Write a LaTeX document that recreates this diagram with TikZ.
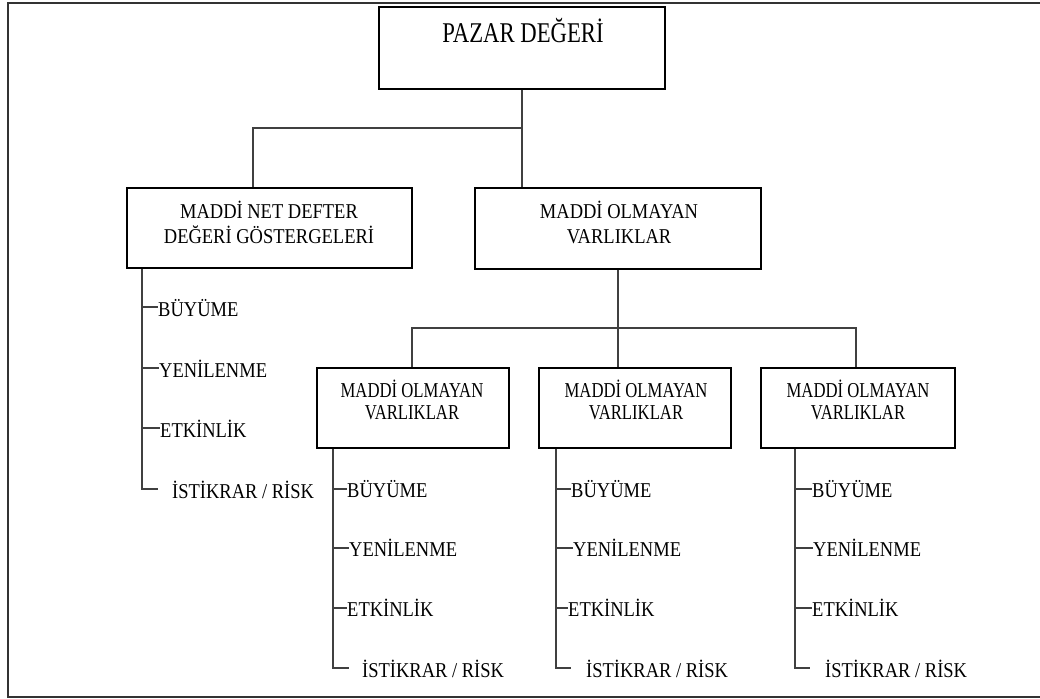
\documentclass[tikz,border=0pt]{standalone}
\usepackage{fontspec}
\setmainfont{Liberation Serif}
\usepackage{graphicx}
\newcommand\vstr[2]{\scalebox{1}[#1]{#2}}
\newcommand\fitem{\fontsize{18.5}{22}\selectfont}
\newcommand\fmid{\fontsize{18.5}{22.8}\selectfont}
\newcommand\fsub{\fontsize{16.7}{18.1}\selectfont}
\newcommand\ftop{\fontsize{22.7}{26}\selectfont}
\renewcommand\arraystretch{1}
\tikzset{
  box/.style={draw=black, line width=1.8pt, rectangle, inner sep=0pt},
  conn/.style={draw=black!75, line width=1.1pt},
  frame/.style={draw=black!80, line width=2pt},
  item/.style={anchor=base west, inner sep=0pt, font=\fitem},
  boxtxt/.style={anchor=base, inner sep=0pt, align=center},
}
\begin{document}
\begin{tikzpicture}[x=1pt,y=-1pt]
\useasboundingbox (0,0) rectangle (1040,698);
% outer frame (open on the right)
\draw[frame] (1041,3.5) -- (8,3.5) -- (8,697) -- (1041,697);

% boxes
\node[box, minimum width=286pt, minimum height=82pt] (pazar) at (522,48) {};
\node[box, minimum width=285pt, minimum height=80pt] (mnd) at (269.5,228) {};
\node[box, minimum width=286pt, minimum height=81pt] (mol) at (618,228.5) {};
\node[box, minimum width=192pt, minimum height=80pt] (ba) at (413,408) {};
\node[box, minimum width=192pt, minimum height=80pt] (bb) at (635,408) {};
\node[box, minimum width=194pt, minimum height=80pt] (bc) at (858,408) {};

% box texts
\node[boxtxt, font=\ftop] (pazar-t) at (523,43) {\vstr{1.26}{PAZAR DEĞERİ}};
\node[boxtxt, font=\fmid] (mnd-t) at (269,218) {\vstr{1.14}{\begin{tabular}[t]{@{}c@{}}MADDİ NET DEFTER\\DEĞERİ GÖSTERGELERİ\end{tabular}}};
\node[boxtxt, font=\fmid] (mol-t) at (619,218) {\vstr{1.14}{\begin{tabular}[t]{@{}c@{}}MADDİ OLMAYAN\\VARLIKLAR\end{tabular}}};
\node[boxtxt, font=\fsub] (ba-t) at (412,397) {\vstr{1.27}{\begin{tabular}[t]{@{}c@{}}MADDİ OLMAYAN\\VARLIKLAR\end{tabular}}};
\node[boxtxt, font=\fsub] (bb-t) at (636,397) {\vstr{1.27}{\begin{tabular}[t]{@{}c@{}}MADDİ OLMAYAN\\VARLIKLAR\end{tabular}}};
\node[boxtxt, font=\fsub] (bc-t) at (858,397) {\vstr{1.27}{\begin{tabular}[t]{@{}c@{}}MADDİ OLMAYAN\\VARLIKLAR\end{tabular}}};

% tree connectors
\coordinate (j1) at (522,128);
\coordinate (j1l) at (253,128);
\draw[conn] (pazar.south) -- (pazar.south |- mol.north);
\draw[conn] (j1) -- (j1l) -- (j1l |- mnd.north);
\coordinate (j2) at (618,328);
\coordinate (j2l) at (412,328);
\coordinate (j2r) at (856,328);
\draw[conn] (mol.south -| j2) -- (j2 |- bb.north);
\draw[conn] (j2l |- ba.north) -- (j2l) -- (j2r) -- (j2r |- bc.north);

% ---- left group (under mnd)
\node[item] (l1) at (158,316) {\vstr{1.14}{BÜYÜME}};
\node[item] (l2) at (159,377) {\vstr{1.14}{YENİLENME}};
\node[item] (l3) at (160,437) {\vstr{1.14}{ETKİNLİK}};
\node[item] (l4) at (172,498) {\vstr{1.14}{İSTİKRAR / RİSK}};
\coordinate (lv) at (142,0);
\coordinate (l4e) at (158,489);
\draw[conn] (lv |- mnd.south) -- (lv |- l4e) -- (l4e);
\draw[conn] (142,307) -- (l1.base west |- 0,307);
\draw[conn] (142,368) -- (l2.base west |- 0,368);
\draw[conn] (142,428) -- (l3.base west |- 0,428);

% ---- group A
\node[item] (a1) at (347,497) {\vstr{1.14}{BÜYÜME}};
\node[item] (a2) at (349,556) {\vstr{1.14}{YENİLENME}};
\node[item] (a3) at (347,616) {\vstr{1.14}{ETKİNLİK}};
\node[item] (a4) at (362,677) {\vstr{1.14}{İSTİKRAR / RİSK}};
\coordinate (av) at (333,0);
\coordinate (a4e) at (349,668);
\draw[conn] (av |- ba.south) -- (av |- a4e) -- (a4e);
\draw[conn] (333,489) -- (a1.base west |- 0,489);
\draw[conn] (333,548) -- (a2.base west |- 0,548);
\draw[conn] (333,608) -- (a3.base west |- 0,608);

% ---- group B
\node[item] (b1) at (571,497) {\vstr{1.14}{BÜYÜME}};
\node[item] (b2) at (573,556) {\vstr{1.14}{YENİLENME}};
\node[item] (b3) at (568,616) {\vstr{1.14}{ETKİNLİK}};
\node[item] (b4) at (586,677) {\vstr{1.14}{İSTİKRAR / RİSK}};
\coordinate (bv) at (556,0);
\coordinate (b4e) at (571,668);
\draw[conn] (bv |- bb.south) -- (bv |- b4e) -- (b4e);
\draw[conn] (556,489) -- (b1.base west |- 0,489);
\draw[conn] (556,548) -- (b2.base west |- 0,548);
\draw[conn] (556,608) -- (b3.base west |- 0,608);

% ---- group C
\node[item] (c1) at (812,497) {\vstr{1.14}{BÜYÜME}};
\node[item] (c2) at (813,556) {\vstr{1.14}{YENİLENME}};
\node[item] (c3) at (812,616) {\vstr{1.14}{ETKİNLİK}};
\node[item] (c4) at (825,677) {\vstr{1.14}{İSTİKRAR / RİSK}};
\coordinate (cv) at (795,0);
\coordinate (c4e) at (810,668);
\draw[conn] (cv |- bc.south) -- (cv |- c4e) -- (c4e);
\draw[conn] (795,489) -- (c1.base west |- 0,489);
\draw[conn] (795,548) -- (c2.base west |- 0,548);
\draw[conn] (795,608) -- (c3.base west |- 0,608);
\end{tikzpicture}
\end{document}
